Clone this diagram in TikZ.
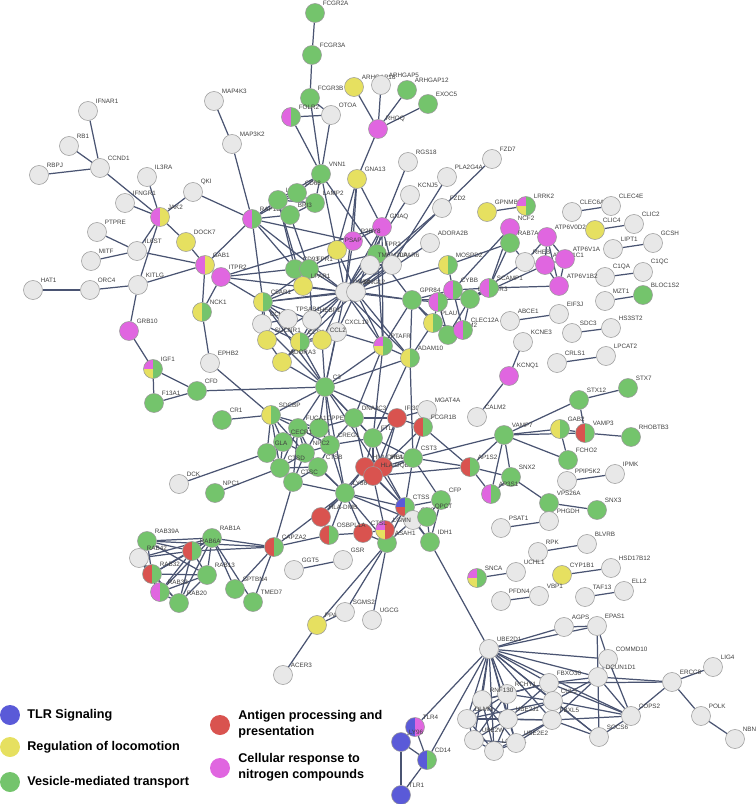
\documentclass[tikz,border=0pt]{standalone}
\usepackage{fontspec}
\setmainfont{Liberation Sans}
\usetikzlibrary{backgrounds}
\definecolor{grn}{HTML}{74C46C}
\definecolor{yel}{HTML}{E6E060}
\definecolor{mag}{HTML}{E066E0}
\definecolor{rd}{HTML}{D9534F}
\definecolor{blu}{HTML}{5A5AD8}
\definecolor{wht}{HTML}{E8E8E8}
\definecolor{edge}{HTML}{4A5472}
\begin{document}
\begin{tikzpicture}[x=0.02cm,y=-0.02cm,
    ball/.style={circle,draw=black!40,line width=0.3pt,minimum size=0.38cm,inner sep=0pt},
    lbl/.style={font=\fontsize{3.6}{4}\selectfont,text=black!75,inner sep=0.3pt,anchor=south west},
    link/.style={draw=edge,line width=0.7pt},
    mix/.style 2 args={ball,fill=#2,path picture={\fill[#1] (path picture bounding box.south west) rectangle (path picture bounding box.north);}},
    tri/.style n args={3}{ball,fill=#3,path picture={\fill[#2] (path picture bounding box.south west) rectangle (path picture bounding box.north);
        \fill[#1] (path picture bounding box.west) rectangle (path picture bounding box.north);}},
    W/.style={ball,fill=wht}, G/.style={ball,fill=grn}, Y/.style={ball,fill=yel},
    M/.style={ball,fill=mag}, R/.style={ball,fill=rd}, B/.style={ball,fill=blu},
    YG/.style={mix={yel}{grn}}, MY/.style={mix={mag}{yel}}, MG/.style={mix={mag}{grn}},
    RG/.style={mix={rd}{grn}}, BM/.style={mix={blu}{mag}}, BG/.style={mix={blu}{grn}},
    MYG/.style={tri={mag}{yel}{grn}}, BRG/.style={tri={blu}{rd}{grn}}, MYR/.style={tri={mag}{yel}{rd}},
    legtext/.style={font=\bfseries\fontsize{7.2}{9}\selectfont,anchor=west,align=left,inner sep=0pt}]
\useasboundingbox (0,0) rectangle (756,804);

% Nodes
\foreach \n/\x/\y/\s in {
  FCGR2A/315/13/G, FCGR3A/312/55/G, FCGR3B/310/98/G, FOLR2/291/117/MG, OTOA/331/115/W,
  ARHGAP18/354/87/Y, ARHGAP5/381/85/W, ARHGAP12/407/90/G, EXOC5/428/104/G, RHOQ/378/129/M,
  VNN1/321/174/G, GNA13/357/179/Y, RGS18/408/162/W, PLA2G4A/447/177/W, FZD7/492/159/W,
  MAP4K3/214/101/W, MAP3K2/232/144/W, IFNAR1/88/111/W, RB1/69/146/W, CCND1/100/168/W,
  RBPJ/39/175/W, IL3RA/147/177/W, IFNGR1/125/203/W, JAK2/160/217/MY, QKI/193/192/W,
  PTPRE/97/232/W, IL6ST/137/251/W, MITF/91/261/W, DOCK7/186/242/Y, GAB1/205/265/MY,
  ITPR2/221/277/M, HAT1/33/290/W, ORC4/90/290/W, KITLG/138/285/W, RAP1B/252/219/MG,
  NCK1/202/312/YG, GRB10/129/331/M, IGF1/153/369/MYG, EPHB2/210/363/W, CFD/197/391/G,
  F13A1/154/403/G, CR1/222/420/G, SDCBP/271/415/YG, DCK/179/484/W, NPC1/215/493/G,
  LAMP1/278/200/G, CD68/297/193/G, LAMP2/315/203/G, BRI3/290/215/G, GNAQ/382/227/M,
  P2RY8/353/241/M, PSAP/337/250/Y, FPR2/377/254/G, TMEM30A/370/265/W, LPAR6/392/265/W,
  CD93/295/269/G, FPR1/309/269/G, LPAR1/303/286/Y, GNB4/345/292/W, GNG12/356/292/W,
  KCNJ5/410/195/W, FZD2/442/208/W, ADORA2B/430/243/W, MOSPD2/448/265/YG,
  GPR84/412/300/G, NCF4/438/302/MG, CYBB/453/290/MG, LAMTOR3/470/299/G, SCAMP1/489/288/MG,
  PLAU/433/323/YG, TRPM2/448/335/G, CLEC12A/463/330/MG,
  C5AR1/263/302/YG, CCL13/262/324/W, TPSAB1/288/319/W, HEBP1/312/320/W, CXCL10/337/332/W,
  SUCNR1/267/340/Y, CCR1/300/342/YG, CCL2/322/340/Y, ADORA3/282/362/Y,
  PTAFR/383/346/MYG, ADAM10/410/358/YG, C3/325/387/G,
  CPPED1/319/428/G, FUCA1/298/428/G, CECR1/283/442/G, CREG1/330/445/G, GLA/267/453/G,
  NPC2/305/453/G, CTSD/280/468/G, CTSB/318/467/G, CTSC/293/482/G, DNAJC3/354/418/G,
  FTL/373/438/G, IFI30/397/418/R, MGAT4A/427/410/W, FCGR1B/423/427/RG,
  HLA-DPB1/365/467/R, HLA-DRA/383/467/R, HLA-DQB2/373/476/R, CST3/413/458/G,
  LY86/345/493/G, CTSS/405/507/BRG, GNS/413/520/W, CFP/441/500/G, QPCT/427/517/G,
  IDH1/430/542/G, ASAH1/387/543/G, LGMN/385/530/MYR, CTSL/363/533/R, OSBPL1A/329/535/RG,
  HLA-DMB/321/517/R, CAPZA2/274/547/RG, GSR/343/560/W, GGT5/294/570/W,
  PPAP2B/317/625/Y, ACER3/283/675/W, SGMS2/345/612/W, UGCG/372/620/W,
  RAB39A/147/541/G, RAB1A/212/538/G, RAB6A/192/551/RG, RAB42/139/558/W, RAB32/152/574/RG,
  RAB13/207/575/G, RAB33/160/592/MG, RAB20/179/603/G, SPTBN4/235/589/G, TMED7/253/602/G,
  GPNMB/487/212/Y, LRRK2/526/206/MYG, CLEC6A/572/212/W, CLEC4E/611/206/W, CLIC4/595/230/Y,
  CLIC2/634/224/W, LIPT1/613/249/W, GCSH/653/243/W, C1QA/605/277/W, C1QC/643/272/W,
  MZT1/605/301/W, BLOC1S2/643/295/G, EIF3J/559/314/W, ABCE1/510/321/W, SDC3/572/333/W,
  HS3ST2/611/328/W, KCNE3/523/342/W, KCNQ1/509/376/M, CRLS1/557/363/W, LPCAT2/606/356/W,
  NCF2/510/228/M, RAB7A/510/243/G, RHEB/525/262/W, ATP6V0D2/547/237/M, ATP6V1C1/545/265/M,
  ATP6V1A/565/259/M, ATP6V1B2/559/286/M,
  CALM2/477/417/W, STX12/579/400/G, STX7/628/388/G, VAMP7/504/435/G, GAB2/560/429/YG,
  VAMP3/585/433/RG, RHOBTB3/631/437/G, FCHO2/568/460/G, AP1S2/470/467/RG, SNX2/511/477/G,
  AP3S1/491/494/MG, PPIP5K2/567/481/W, IPMK/615/474/W, VPS26A/549/503/G, SNX3/597/510/G,
  PHGDH/549/521/W, PSAT1/501/528/W, RPK/538/552/W, BLVRB/587/544/W, SNCA/477/578/MYG,
  UCHL1/516/572/W, CYP1B1/562/575/Y, HSD17B12/611/568/W, PFDN4/501/601/W, VBP1/539/596/W,
  TAF13/585/597/W, ELL2/624/591/W,
  UBE2D1/489/649/W, AGPS/564/627/W, EPAS1/597/626/W, COMMD10/608/659/W, DCUN1D1/598/677/W,
  ERCC8/672/682/W, LIG4/713/667/W, POLK/701/716/W, NBN/735/739/W, COPS2/631/716/W,
  SOCS6/599/737/W, FBXO30/549/683/W, CUL5/553/701/W, FBXL5/552/720/W, RCHY1/507/694/W,
  RNF130/482/700/W, DLMN/467/719/W, UBE2J1/508/719/W, UBE2W/474/740/W, LONRF1/494/751/W,
  UBE2E2/516/743/W, TLR4/415/727/BM, LY96/401/742/B, CD14/427/760/BG, TLR1/401/795/B}
  \node[style/.expanded=\s,label={[lbl]north east:\n}] (\n) at (\x,\y) {};

% Connectors
\begin{scope}[on background layer]
\foreach \a/\b in {
  FCGR2A/FCGR3A, FCGR3A/FCGR3B, FCGR3B/OTOA, FOLR2/OTOA, FOLR2/VNN1, FCGR3B/VNN1, OTOA/VNN1,
  ARHGAP18/RHOQ, ARHGAP5/RHOQ, ARHGAP12/RHOQ, EXOC5/RHOQ, RHOQ/GNA13,
  MAP4K3/MAP3K2, MAP3K2/RAP1B, IFNAR1/CCND1, RB1/CCND1, RBPJ/CCND1, CCND1/JAK2,
  IL3RA/JAK2, IFNGR1/JAK2, JAK2/QKI, QKI/RAP1B, JAK2/DOCK7, JAK2/IL6ST, JAK2/KITLG,
  PTPRE/IL6ST, MITF/IL6ST, IL6ST/GAB1, HAT1/ORC4, ORC4/KITLG, KITLG/GAB1, KITLG/GRB10,
  DOCK7/GAB1, GAB1/RAP1B, GAB1/ITPR2, GAB1/NCK1, ITPR2/NCK1, NCK1/EPHB2, GRB10/IGF1,
  IGF1/F13A1, IGF1/CFD, F13A1/CFD, CFD/C3, EPHB2/SDCBP, CR1/SDCBP, DCK/GLA, NPC1/CTSD,
  RAP1B/LAMP1, RAP1B/CD68, RAP1B/BRI3, RAP1B/CD93, RAP1B/C5AR1, RAP1B/GNB4, RAP1B/P2RY8,
  VNN1/CD68, VNN1/LAMP2, VNN1/FPR2, VNN1/GNB4, VNN1/LAMP1, GNA13/P2RY8, GNA13/GNAQ,
  GNA13/GNB4, GNA13/PSAP, RGS18/GNAQ, PLA2G4A/LPAR6, FZD7/GNG12, FZD2/GNB4, KCNJ5/GNB4,
  GNAQ/GNB4, GNAQ/GNG12, GNAQ/P2RY8, GNAQ/LPAR6, GNAQ/PTAFR, GNAQ/FPR2, ADORA2B/GNG12,
  MOSPD2/GNG12, MOSPD2/CYBB, LAMP1/CD68, LAMP1/BRI3, LAMP1/LAMP2, LAMP1/CD93, LAMP1/LPAR1,
  CD68/LAMP2, BRI3/LAMP2, BRI3/FPR1, ITPR2/GNB4, ITPR2/C5AR1, ITPR2/GNAQ, ITPR2/CD93,
  C5AR1/CCL13, C5AR1/TPSAB1, C5AR1/SUCNR1, C5AR1/GNB4, C5AR1/GNG12, C5AR1/FPR1, C5AR1/C3,
  C5AR1/CCR1, C5AR1/HEBP1, C5AR1/LPAR1, CCL13/SUCNR1, CCL13/CCR1, CCL13/TPSAB1, CCL13/C3,
  CCR1/CXCL10, CCR1/ADORA3, CCR1/GNB4, CCR1/C3, CCR1/HEBP1, CXCL10/GNG12, CXCL10/C3,
  CXCL10/PTAFR, SUCNR1/ADORA3, SUCNR1/GNB4, ADORA3/GNG12, ADORA3/C3, CCL2/GNB4, CCL2/C3,
  CCL2/CCR1, HEBP1/GNB4, HEBP1/FPR1, FPR1/FPR2, FPR1/GNB4, FPR1/PSAP, FPR1/LPAR1, CD93/LPAR1,
  FPR2/GNB4, FPR2/LPAR6, FPR2/PTAFR, FPR2/GPR84, GNB4/GNG12, GNB4/PTAFR, GNB4/LPAR1,
  GNB4/P2RY8, GNB4/LPAR6, GNB4/C3, GNB4/ADAM10, GNB4/GPR84, GNG12/LPAR6, GNG12/PTAFR,
  GNG12/ADAM10, GNG12/GPR84, TMEM30A/LPAR6, PSAP/GNG12, GPR84/CYBB, GPR84/NCF4, GPR84/PLAU,
  GPR84/TRPM2, GPR84/LAMTOR3, GPR84/PTAFR, GPR84/ADAM10, CYBB/NCF2, CYBB/NCF4, CYBB/SCAMP1,
  CYBB/LAMTOR3, CYBB/CLEC12A, NCF4/PLAU, NCF4/TRPM2, SCAMP1/RAB7A, SCAMP1/ATP6V1B2,
  SCAMP1/NCF2, SCAMP1/LAMTOR3, LAMTOR3/RHEB, LAMTOR3/TRPM2, LAMTOR3/CLEC12A,
  LAMTOR3/ATP6V1C1, PLAU/ADAM10, PLAU/TRPM2, PLAU/CLEC12A, PTAFR/ADAM10, PTAFR/C3,
  PTAFR/DNAJC3, PTAFR/FTL, ADAM10/CST3, ADAM10/FTL, ADAM10/C3, ATP6V0D2/ATP6V1C1,
  ATP6V0D2/ATP6V1A, ATP6V0D2/ATP6V1B2, ATP6V0D2/RHEB, ATP6V1C1/ATP6V1A, ATP6V1C1/ATP6V1B2,
  ATP6V1A/ATP6V1B2, NCF2/RAB7A, RAB7A/RHEB, RHEB/ATP6V1C1, LRRK2/GPNMB, RAB7A/MOSPD2,
  CLEC6A/CLEC4E, CLIC4/CLIC2, LIPT1/GCSH, C1QA/C1QC, MZT1/BLOC1S2, ABCE1/EIF3J, SDC3/HS3ST2,
  KCNE3/KCNQ1, CRLS1/LPCAT2, KCNQ1/CALM2,
  C3/SDCBP, C3/CPPED1, C3/DNAJC3, C3/FTL, C3/FUCA1, C3/CREG1, C3/LY86, C3/CTSS, C3/IFI30,
  SDCBP/FUCA1, SDCBP/CECR1, SDCBP/GLA, SDCBP/CPPED1, SDCBP/NPC2, SDCBP/CTSD,
  CPPED1/FUCA1, CPPED1/CREG1, CPPED1/DNAJC3, CPPED1/NPC2, FUCA1/CECR1, FUCA1/CREG1,
  FUCA1/GLA, FUCA1/NPC2, FUCA1/CTSD, FUCA1/CTSC, FUCA1/CTSB, CECR1/GLA, CECR1/NPC2,
  CECR1/CTSD, CREG1/NPC2, CREG1/CTSB, CREG1/DNAJC3, CREG1/FTL, CREG1/LY86, GLA/CTSD,
  GLA/CTSC, NPC2/CTSD, NPC2/CTSB, NPC2/CTSC, NPC2/LY86, CTSD/CTSC, CTSD/CTSB, CTSB/CTSC,
  CTSB/LY86, CTSC/LY86, DNAJC3/FTL, DNAJC3/IFI30, DNAJC3/HLA-DPB1, FTL/HLA-DPB1,
  FTL/HLA-DRA, FTL/HLA-DQB2, FTL/CST3, FTL/IFI30, IFI30/MGAT4A, IFI30/FCGR1B,
  IFI30/HLA-DRA, IFI30/HLA-DQB2, FCGR1B/HLA-DQB2, FCGR1B/CST3, FCGR1B/AP1S2,
  HLA-DPB1/HLA-DRA, HLA-DPB1/HLA-DQB2, HLA-DPB1/LY86, HLA-DPB1/CTSS, HLA-DPB1/HLA-DMB,
  HLA-DRA/HLA-DQB2, HLA-DRA/CTSS, HLA-DRA/CST3, HLA-DRA/LY86, HLA-DQB2/CTSS,
  HLA-DQB2/CST3, HLA-DQB2/AP1S2, HLA-DQB2/LGMN, CST3/CTSS, CST3/AP1S2, CST3/CFP,
  CST3/VAMP7, LY86/CTSS, LY86/HLA-DMB, LY86/OSBPL1A, LY86/CTSL, LY86/ASAH1, LY86/CAPZA2,
  LY86/GNS, CTSS/GNS, CTSS/CFP, CTSS/QPCT, CTSS/LGMN, CTSS/IDH1, CTSS/ASAH1, GNS/ASAH1,
  GNS/IDH1, CFP/QPCT, CFP/IDH1, QPCT/IDH1, CTSL/ASAH1, CTSL/LGMN, LGMN/ASAH1,
  HLA-DMB/OSBPL1A, OSBPL1A/CTSL, ASAH1/PPAP2B, ASAH1/SGMS2, ASAH1/UGCG, PPAP2B/SGMS2,
  PPAP2B/ACER3, GGT5/GSR, CAPZA2/RAB6A, CAPZA2/RAB1A, CAPZA2/RAB39A, CAPZA2/SPTBN4,
  CAPZA2/TMED7, CAPZA2/CTSC, CAPZA2/OSBPL1A, IDH1/UBE2D1,
  AP1S2/VAMP7, AP1S2/AP3S1, AP1S2/SNX2, VAMP7/STX12, VAMP7/GAB2, VAMP7/VAMP3, VAMP7/FCHO2,
  VAMP7/SNX2, VAMP7/AP3S1, STX12/STX7, STX12/VAMP3, GAB2/VAMP3, GAB2/FCHO2, VAMP3/RHOBTB3,
  SNX2/AP3S1, SNX2/VPS26A, VPS26A/SNX3, VPS26A/PHGDH, PPIP5K2/IPMK, PSAT1/PHGDH,
  RPK/BLVRB, SNCA/UCHL1, CYP1B1/HSD17B12, PFDN4/VBP1, TAF13/ELL2,
  RAB39A/RAB6A, RAB39A/RAB1A, RAB39A/RAB42, RAB39A/RAB32, RAB39A/RAB13, RAB1A/RAB6A,
  RAB1A/RAB42, RAB1A/RAB32, RAB1A/RAB33, RAB1A/RAB20, RAB1A/RAB13, RAB1A/SPTBN4,
  RAB1A/TMED7, RAB6A/RAB42, RAB6A/RAB32, RAB6A/RAB33, RAB6A/RAB20, RAB6A/RAB13,
  RAB42/RAB32, RAB42/RAB33, RAB42/RAB20, RAB32/RAB13, RAB32/RAB33, RAB32/RAB20,
  RAB33/RAB13, RAB33/RAB20, RAB20/RAB13,
  UBE2D1/AGPS, UBE2D1/EPAS1, UBE2D1/COMMD10, UBE2D1/DCUN1D1, UBE2D1/FBXO30, UBE2D1/CUL5,
  UBE2D1/FBXL5, UBE2D1/RCHY1, UBE2D1/RNF130, UBE2D1/DLMN, UBE2D1/UBE2J1, UBE2D1/UBE2W,
  UBE2D1/LONRF1, UBE2D1/UBE2E2, UBE2D1/TLR4, UBE2D1/CD14, UBE2D1/SOCS6, UBE2D1/COPS2,
  AGPS/EPAS1, EPAS1/DCUN1D1, EPAS1/COMMD10, COMMD10/DCUN1D1, COMMD10/COPS2,
  DCUN1D1/ERCC8, DCUN1D1/COPS2, DCUN1D1/CUL5, DCUN1D1/FBXO30, DCUN1D1/FBXL5,
  DCUN1D1/SOCS6, ERCC8/LIG4, ERCC8/POLK, ERCC8/COPS2, ERCC8/FBXO30, POLK/NBN,
  COPS2/CUL5, COPS2/FBXL5, COPS2/SOCS6, COPS2/FBXO30, SOCS6/CUL5, SOCS6/FBXL5,
  TLR4/LY96, TLR4/CD14, LY96/TLR1, LY96/CD14, TLR1/CD14}
  \draw[link] (\a) -- (\b);
% Ubiquitin cluster
\foreach \a/\b in {FBXO30/CUL5, FBXO30/FBXL5, FBXO30/RCHY1, FBXO30/RNF130, FBXO30/UBE2J1,
  CUL5/FBXL5, CUL5/RCHY1, CUL5/UBE2J1, CUL5/DLMN, FBXL5/UBE2J1, FBXL5/UBE2E2, FBXL5/LONRF1,
  FBXL5/DLMN, RCHY1/RNF130, RCHY1/UBE2J1, RCHY1/UBE2W, RCHY1/DLMN, RNF130/DLMN,
  RNF130/UBE2J1, RNF130/UBE2E2, DLMN/UBE2J1, DLMN/UBE2W, DLMN/LONRF1, UBE2J1/UBE2W,
  UBE2J1/LONRF1, UBE2J1/UBE2E2, UBE2W/LONRF1, UBE2W/UBE2E2, LONRF1/UBE2E2, RNF130/LONRF1}
  \draw[link] (\a) -- (\b);
\end{scope}

% Legend
\node[B,minimum size=0.4cm,draw=none] (lgb) at (10,715) {};
\node[legtext] at (27,715) {TLR Signaling};
\node[Y,minimum size=0.4cm,draw=none] (lgy) at (10,747) {};
\node[legtext] at (27,747) {Regulation of locomotion};
\node[G,minimum size=0.4cm,draw=none] (lgg) at (10,782) {};
\node[legtext] at (27,782) {Vesicle-mediated transport};
\node[R,minimum size=0.4cm,draw=none] (lgr) at (220,725) {};
\node[legtext] at (238,724) {Antigen processing and\\presentation};
\node[M,minimum size=0.4cm,draw=none] (lgm) at (220,768) {};
\node[legtext] at (238,767) {Cellular response to\\nitrogen compounds};
\end{tikzpicture}
\end{document}
